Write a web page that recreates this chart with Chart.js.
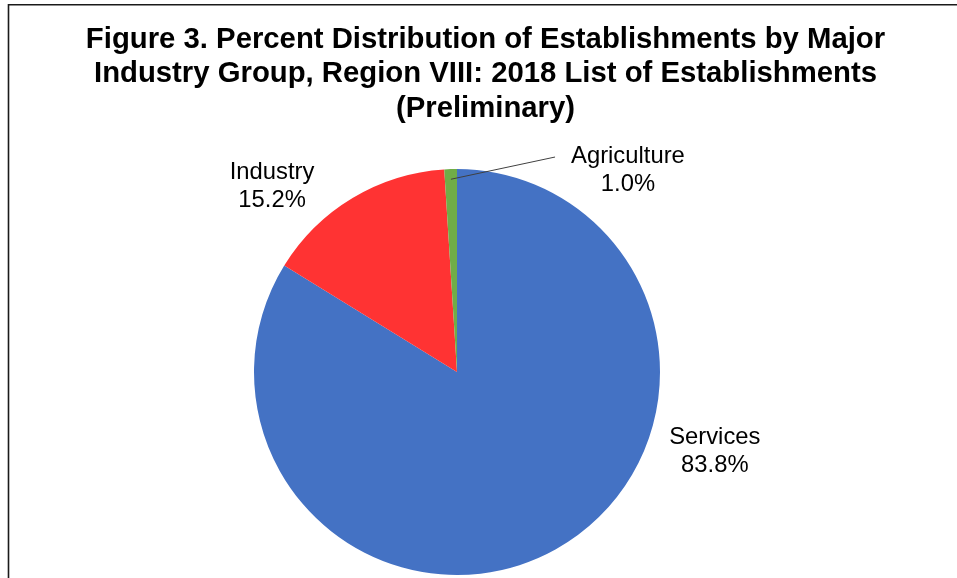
<!DOCTYPE html>
<html>
<head>
<meta charset="utf-8">
<script src="https://cdn.jsdelivr.net/npm/chart.js@4.4.1/dist/chart.umd.min.js"></script>
<style>
  html, body { margin: 0; padding: 0; background: #fff; }
  canvas { display: block; }
</style>
</head>
<body>
<canvas id="pie" width="957" height="578"></canvas>
<script>
// Data
const categories = ["Services", "Industry", "Agriculture"]
const percents = [83.8, 15.2, 1.0]
const sliceColors = ["#4472C4", "#FF3333", "#70AD47"]

const titleLines = [
  "Figure 3. Percent Distribution of Establishments by Major",
  "Industry Group, Region VIII: 2018 List of Establishments",
  "(Preliminary)",
]

// label placement, in units of the pie radius from its centre
const labelOffsets = [
  { dx: 1.27, dy: 0.39 },
  { dx: -0.911, dy: -0.914 },
  { dx: 0.842, dy: -0.993 },
]

const labelFont = "Arial, 'Liberation Sans', sans-serif"

// Frame, title and data labels drawn on top of the pie
const decorPlugin = {
  id: "decor",
  afterDraw: (chart) => {
    const ctx = chart.ctx
    ctx.save()

    // outer frame (only left and top edges show in the window)
    ctx.strokeStyle = "#1a1a1a"
    ctx.lineWidth = 1.6
    ctx.beginPath()
    ctx.moveTo(8.5, 600)
    ctx.lineTo(8.5, 4.8)
    ctx.lineTo(970, 4.8)
    ctx.stroke()

    // title
    ctx.fillStyle = "#000"
    ctx.textAlign = "center"
    ctx.textBaseline = "alphabetic"
    ctx.font = `bold 29.3px ${labelFont}`
    const baselines = [47.5, 82, 116.5]
    titleLines.forEach((line, i) => ctx.fillText(line, 485.5, baselines[i]))

    // data labels
    const meta = chart.getDatasetMeta(0)
    const first = meta.data[0]
    const cx = first.x
    const cy = first.y
    const r = first.outerRadius

    ctx.font = `23.8px ${labelFont}`
    ctx.textBaseline = "middle"
    categories.forEach((cat, i) => {
      const x = cx + labelOffsets[i].dx * r
      const y = cy + labelOffsets[i].dy * r
      ctx.fillText(cat, x, y - 14)
      ctx.fillText(percents[i].toFixed(1) + "%", x, y + 14)
    })

    // leader line for the tiny agriculture slice
    const arc = meta.data[2]
    const mid = (arc.startAngle + arc.endAngle) / 2
    ctx.strokeStyle = "#404040"
    ctx.lineWidth = 1
    ctx.beginPath()
    ctx.moveTo(cx + Math.cos(mid) * r * 0.95, cy + Math.sin(mid) * r * 0.95)
    ctx.lineTo(cx + 0.483 * r, cy - 1.059 * r)
    ctx.stroke()

    ctx.restore()
  },
}

new Chart(document.getElementById("pie").getContext("2d"), {
  type: "pie",
  data: {
    labels: categories,
    datasets: [
      {
        data: percents,
        backgroundColor: sliceColors,
        borderWidth: 0,
      },
    ],
  },
  options: {
    responsive: false,
    animation: false,
    devicePixelRatio: 1,
    layout: {
      padding: { top: 169, bottom: 3, left: 100, right: 143 },
    },
    plugins: {
      legend: { display: false },
      title: { display: false },
      tooltip: { enabled: false },
    },
  },
  plugins: [decorPlugin],
})
</script>
</body>
</html>
